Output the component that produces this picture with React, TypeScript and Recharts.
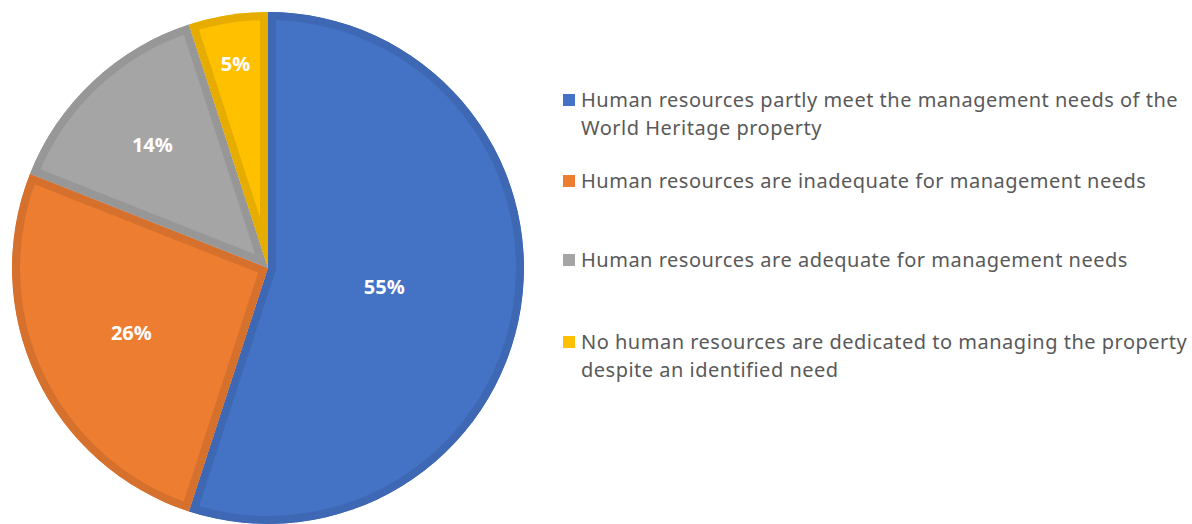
import { PieChart, Pie, Cell, Sector } from 'recharts'

const categories = [
  'Human resources partly meet the management needs of the World Heritage property',
  'Human resources are inadequate for management needs',
  'Human resources are adequate for management needs',
  'No human resources are dedicated to managing the property despite an identified need',
]
const shares = [55, 26, 14, 5]

const FILLS = ['#4472C4', '#ED7D31', '#A5A5A5', '#FFC000']
const EDGES = ['#3E68B4', '#D5712D', '#979797', '#E6AD00']
// where the % label sits, as a fraction of the radius (Excel best fit look)
const LABEL_R = [0.46, 0.59, 0.66, 0.81]

const data = categories.map((name, i) => ({ name, value: shares[i] }))

const legendLines = [
  ['Human resources partly meet the management needs of the', 'World Heritage property'],
  ['Human resources are inadequate for management needs'],
  ['Human resources are adequate for management needs'],
  ['No human resources are dedicated to managing the property', 'despite an identified need'],
]
const legendTops = [86, 167, 246, 328]

const RAD = Math.PI / 180

// sector with a darker border drawn on the inside only
function InsetSector(props: any) {
  const { cx, cy, innerRadius, outerRadius, startAngle, endAngle, index } = props
  const geom = { cx, cy, innerRadius, outerRadius, startAngle, endAngle }
  const id = `slice-clip-${index}`
  return (
    <g>
      <defs>
        <clipPath id={id}>
          <Sector {...geom} />
        </clipPath>
      </defs>
      <Sector
        {...geom}
        fill={FILLS[index]}
        stroke={EDGES[index]}
        strokeWidth={16}
        clipPath={`url(#${id})`}
      />
    </g>
  )
}

function renderLabel(props: any) {
  const { cx, cy, midAngle, outerRadius, index, value } = props
  const r = outerRadius * LABEL_R[index]
  const x = cx + r * Math.cos(-midAngle * RAD)
  const y = cy + r * Math.sin(-midAngle * RAD)
  return (
    <text
      x={x}
      y={y}
      fill="#ffffff"
      textAnchor="middle"
      dominantBaseline="central"
      fontFamily="'Open Sans', sans-serif"
      fontWeight={700}
      fontSize={20}
    >
      {value}%
    </text>
  )
}

export default function App() {
  return (
    <div
      style={{
        position: 'fixed',
        left: 0,
        top: 0,
        width: 1192,
        height: 524,
        background: '#fff',
        overflow: 'hidden',
      }}
    >
      <PieChart width={540} height={524} margin={{ top: 0, right: 0, bottom: 0, left: 0 }}>
        <Pie
          data={data}
          dataKey="value"
          nameKey="name"
          cx={268}
          cy={268}
          outerRadius={256}
          startAngle={90}
          endAngle={-270}
          stroke="none"
          shape={InsetSector}
          label={renderLabel}
          labelLine={false}
          isAnimationActive={false}
        >
          {data.map((entry, index) => (
            <Cell key={`cell-${index}`} fill={FILLS[index]} />
          ))}
        </Pie>
      </PieChart>

      {/* Legend */}
      {legendLines.map((lines, i) => (
        <div
          key={i}
          style={{
            position: 'absolute',
            left: 563,
            top: legendTops[i],
            fontFamily: "'Noto Sans', sans-serif",
            fontSize: 20,
            letterSpacing: 0.5,
            lineHeight: '28px',
            color: '#595959',
            whiteSpace: 'nowrap',
          }}
        >
          <span
            style={{
              position: 'absolute',
              left: 0,
              top: 8,
              width: 12,
              height: 12,
              background: FILLS[i],
            }}
          />
          {lines.map((t, j) => (
            <div key={j} style={{ marginLeft: 18 }}>
              {t}
            </div>
          ))}
        </div>
      ))}
    </div>
  )
}
